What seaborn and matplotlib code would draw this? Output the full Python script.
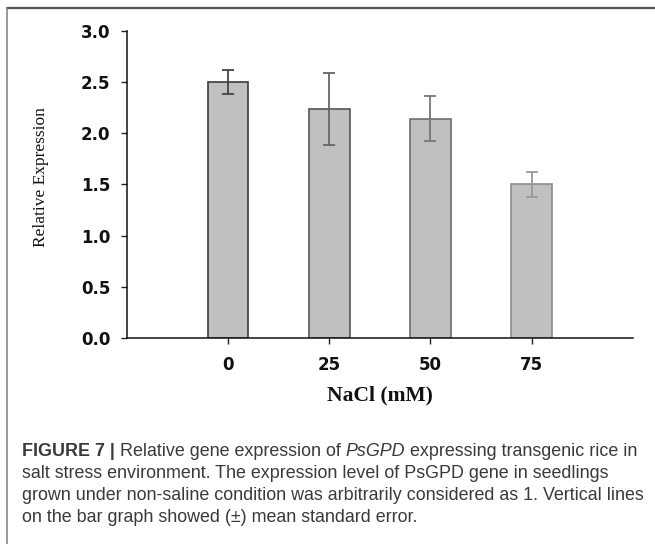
import matplotlib
matplotlib.use("Agg")
import matplotlib.pyplot as plt
from matplotlib.lines import Line2D
import seaborn as sns
import pandas as pd

# NaCl treatments and relative expression (mean ± SE)
nacl_levels = ["0", "25", "50", "75"]
expression = [2.50, 2.24, 2.14, 1.50]
std_error = [0.12, 0.35, 0.22, 0.12]
y_ticks = [0.0, 0.5, 1.0, 1.5, 2.0, 2.5, 3.0]

df = pd.DataFrame({"NaCl": nacl_levels, "expr": expression})

sns.set_style("white")
fig = plt.figure(figsize=(6.55, 5.44), dpi=100)
ax = fig.add_axes([0.194, 0.379, 0.772, 0.564])

sns.barplot(data=df, x="NaCl", y="expr", color="#c0c0c0", width=0.4,
            saturation=1, errorbar=None, linewidth=1.2, ax=ax)

edge_cols = ["#3a3a3a", "#555555", "#6e6e6e", "#8c8c8c"]
err_cols = ["#444444", "#666666", "#777777", "#999999"]
for patch, ec in zip(ax.patches, edge_cols):
    patch.set_edgecolor(ec)

for i, (m, e) in enumerate(zip(expression, std_error)):
    ax.errorbar(i, m, yerr=e, fmt="none", ecolor=err_cols[i],
                elinewidth=1.3, capsize=4.5, capthick=1.3)

ax.set_xlim(-1, 4)
ax.set_ylim(0, 3.0)
ax.set_yticks(y_ticks)
ax.set_yticklabels([f"{t:.1f}" for t in y_ticks])

for s in ["top", "right"]:
    ax.spines[s].set_visible(False)
for s in ["left", "bottom"]:
    ax.spines[s].set_color("#111111")
    ax.spines[s].set_linewidth(1.1)

ax.tick_params(axis="both", which="major", direction="out", length=4,
               width=1.0, color="#222222", left=True, bottom=True)
ax.tick_params(axis="y", pad=8)
ax.tick_params(axis="x", pad=9)
for lab in ax.get_yticklabels() + ax.get_xticklabels():
    lab.set_fontfamily("DejaVu Sans")
    lab.set_fontweight("heavy")
    lab.set_fontsize(12)
    lab.set_color("#111111")

ax.set_xlabel("NaCl (mM)", fontfamily="Liberation Serif", fontweight="bold",
              fontsize=15.5, color="#111111", labelpad=8)
ax.set_ylabel("")
fig.text(0.063, 0.674, "Relative Expression", rotation=90,
         fontfamily="Liberation Serif", fontsize=12.5, color="#111111",
         ha="center", va="center")

# figure frame (top and left rule)
fig.add_artist(Line2D([7 / 655, 1.0], [1 - 8 / 544, 1 - 8 / 544],
                      transform=fig.transFigure, color="#555555", lw=1.6))
fig.add_artist(Line2D([7 / 655, 7 / 655], [0.0, 1 - 8 / 544],
                      transform=fig.transFigure, color="#888888", lw=1.2))

# caption
cap_x = 22 / 655
fs = 12.85
col = "#3a3a3a"
fam = "Liberation Sans"
y1 = 1 - 451 / 544
t = fig.text(cap_x, y1, "FIGURE 7 | ", fontfamily=fam, fontweight="bold",
             fontsize=fs, color=col, va="center")
fig.canvas.draw()
r = fig.canvas.get_renderer()
bb = t.get_window_extent(r)
t2 = fig.text(bb.x1 / fig.bbox.width, y1, "Relative gene expression of ",
              fontfamily=fam, fontsize=fs, color=col, va="center")
bb = t2.get_window_extent(r)
t3 = fig.text(bb.x1 / fig.bbox.width, y1, "PsGPD", fontfamily=fam,
              fontstyle="italic", fontsize=fs, color=col, va="center")
bb = t3.get_window_extent(r)
fig.text(bb.x1 / fig.bbox.width, y1, " expressing transgenic rice in",
         fontfamily=fam, fontsize=fs, color=col, va="center")

lines = [
    "salt stress environment. The expression level of PsGPD gene in seedlings",
    "grown under non-saline condition was arbitrarily considered as 1. Vertical lines",
    "on the bar graph showed (\u00b1) mean standard error.",
]
for k, ln in enumerate(lines):
    fig.text(cap_x, 1 - (473 + 22 * k) / 544, ln, fontfamily=fam,
             fontsize=fs, color=col, va="center")

fig.savefig("out.png", dpi=100)
